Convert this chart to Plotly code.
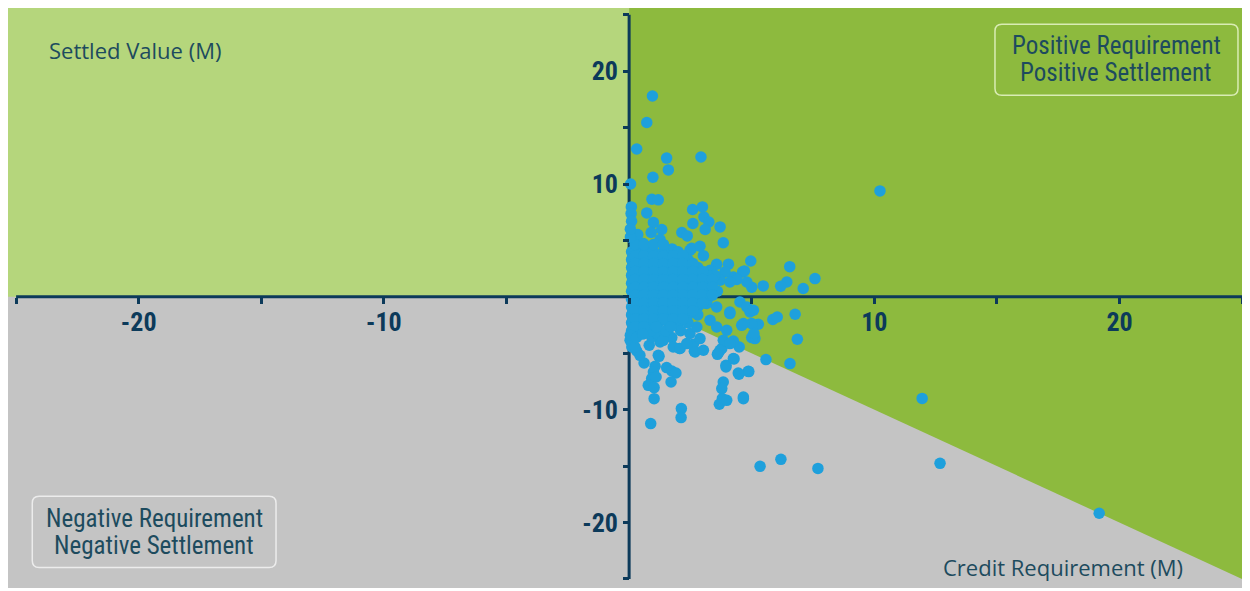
import plotly.graph_objects as go

# ---------------- data (millions) ----------------
# scattered points: credit requirement (x) vs settled value (y)
credit_requirement = [
    # upper scatter
    0.95, 0.72, 0.31, 1.53, 2.93, 1.60, 0.97, 0.06, 0.93, 1.19,
    0.09, 2.59, 2.99, 0.08, 0.72, 3.05, 0.10, 0.99, 3.25, 2.60,
    3.71, 1.33, 0.90, 2.15, 2.37, 3.10, 0.35, 1.26, 3.84, 1.75,
    2.55, 2.89, 0.58, 3.03, 3.57, 4.05, 4.96, 6.55, 4.63, 6.43,
    6.18, 5.47, 7.10, 5.00, 4.25, 10.23, 7.58, 4.70, 4.39, 3.91,
    3.71, 4.11, 4.80, 3.30, 3.50, 2.48,
    # lower right scatter
    6.77, 5.86, 6.04, 6.86, 6.56, 5.58, 4.93, 5.27, 5.00, 4.66,
    5.07, 5.13, 4.49, 4.86, 4.45, 4.66, 3.84, 3.78, 3.95, 4.25,
    3.64, 3.78, 4.11, 4.25, 5.00, 5.09, 3.16, 3.57, 4.11, 4.52,
    4.80, 5.07, 3.30, 3.57, 3.98, 4.59, 3.84, 4.11,
    # lower left scatter
    2.05, 2.66, 0.61, 1.22, 1.53, 1.74, 1.91, 1.06, 0.99, 0.92,
    1.10, 0.78, 1.02, 1.71, 1.02, 0.88, 2.13, 2.12, 3.71, 3.60,
    3.95, 4.28, 4.48, 4.88, 3.80, 3.68, 3.98, 4.66, 0.44, 0.11,
    0.31, 0.82, 1.26, 1.74, 2.62, 2.89, 0.31, 0.58, 0.92, 1.13,
    1.39, 1.80, 2.08, 2.35, 2.69, 3.03, 0.04, 0.24, 1.19, 2.48,
    2.76,
    # far outliers
    5.34, 6.19, 7.70, 11.95, 12.68, 19.17,
    # dense cluster near the origin
    0.10, 0.40, 0.70, 1.00, 1.40, 2.00,
    0.10, 0.40, 0.80, 1.20, 1.60, 2.00, 2.40,
    0.10, 0.40, 0.80, 1.20, 1.60, 2.00, 2.40, 2.80,
    0.10, 0.40, 0.80, 1.20, 1.60, 2.00, 2.40, 2.80, 3.20,
    0.10, 0.40, 0.80, 1.20, 1.60, 2.00, 2.40, 2.80, 3.20,
    0.10, 0.40, 0.80, 1.20, 1.60, 2.00, 2.40, 2.80, 3.20, 3.60,
    0.10, 0.40, 0.80, 1.20, 1.60, 2.00, 2.40, 2.80, 3.20,
    0.10, 0.40, 0.80, 1.20, 1.60, 2.00, 2.40, 2.80,
    0.10, 0.40, 0.80, 1.20, 1.60, 2.00, 2.40, 2.80,
    0.10, 0.40, 0.80, 1.20, 1.60, 2.00, 2.40,
    0.10, 0.50, 0.90, 1.50, 2.10,
    # dense cluster, in-between rows
    0.25, 0.60, 1.00, 1.40, 0.25, 0.60, 1.00, 1.40, 1.80, 2.20,
    0.25, 0.60, 1.00, 1.40, 1.80, 2.20, 2.60,
    0.25, 0.60, 1.00, 1.40, 1.80, 2.20, 2.60, 3.00,
    0.25, 0.60, 1.00, 1.40, 1.80, 2.20, 2.60, 3.00, 3.40,
    0.25, 0.60, 1.00, 1.40, 1.80, 2.20, 2.60, 3.00, 3.40,
    0.25, 0.60, 1.00, 1.40, 1.80, 2.20, 2.60, 3.00, 3.40,
    0.25, 0.60, 1.00, 1.40, 1.80, 2.20, 2.60, 3.00,
    0.25, 0.60, 1.00, 1.40, 1.80, 2.20, 2.60,
    0.25, 0.60, 1.00, 1.40, 1.80, 2.20,
    0.25, 0.60, 1.10, 1.70,
    0.05, 0.05, 0.05, 0.30, 0.55,
]
settled_value = [
    # upper scatter
    17.80, 15.45, 13.10, 12.30, 12.40, 11.25, 10.60, 10.00, 8.65, 8.60,
    7.97, 7.74, 7.97, 7.38, 7.44, 7.08, 6.70, 6.60, 6.64, 6.50,
    6.20, 5.97, 5.70, 5.70, 5.40, 5.97, 5.52, 5.08, 4.80, 4.25,
    4.30, 4.49, 4.73, 3.65, 2.89, 2.90, 3.18, 2.68, 2.21, 1.32,
    0.94, 0.97, 0.74, 0.85, 1.76, 9.39, 1.62, 2.30, 1.55, 2.21,
    1.47, 1.32, 1.32, 2.36, 1.92, 4.13,
    # lower right scatter
    -1.54, -2.01, -1.78, -3.76, -5.91, -5.56, -1.34, -2.43, -2.37, -2.37,
    -3.40, -3.70, -4.44, -6.60, -6.75, -8.87, -7.54, -8.13, -6.06, -5.47,
    -4.97, -4.58, -1.48, -3.91, -3.61, -3.25, -0.59, -0.90, -1.34, -0.45,
    -0.90, -1.19, -2.07, -2.67, -2.96, -2.52, -3.85, -4.14,
    # lower left scatter
    -4.58, -4.82, -5.86, -5.27, -6.27, -6.57, -6.75, -6.15, -6.66, -7.24,
    -7.10, -7.84, -8.04, -7.54, -9.02, -11.23, -9.90, -10.70, -4.73, -5.09,
    -6.21, -5.50, -6.86, -6.62, -9.02, -9.52, -9.17, -9.02, -5.18, -4.44,
    -4.80, -4.29, -4.00, -3.61, -4.20, -3.70, -2.67, -3.11, -3.56, -3.25,
    -3.85, -4.44, -4.58, -4.14, -4.88, -4.73, -3.85, -4.44, -5.18, -3.25,
    -2.67,
    # far outliers
    -15.02, -14.40, -15.20, -9.00, -14.75, -19.18,
    # dense cluster near the origin
    4.00, 4.00, 4.00, 4.00, 4.00, 4.00,
    3.30, 3.30, 3.30, 3.30, 3.30, 3.30, 3.30,
    2.60, 2.60, 2.60, 2.60, 2.60, 2.60, 2.60, 2.60,
    1.90, 1.90, 1.90, 1.90, 1.90, 1.90, 1.90, 1.90, 1.90,
    1.20, 1.20, 1.20, 1.20, 1.20, 1.20, 1.20, 1.20, 1.20,
    0.50, 0.50, 0.50, 0.50, 0.50, 0.50, 0.50, 0.50, 0.50, 0.50,
    -0.20, -0.20, -0.20, -0.20, -0.20, -0.20, -0.20, -0.20, -0.20,
    -0.90, -0.90, -0.90, -0.90, -0.90, -0.90, -0.90, -0.90,
    -1.60, -1.60, -1.60, -1.60, -1.60, -1.60, -1.60, -1.60,
    -2.30, -2.30, -2.30, -2.30, -2.30, -2.30, -2.30,
    -3.00, -3.00, -3.00, -3.00, -3.00,
    # dense cluster, in-between rows
    4.65, 4.65, 4.65, 4.65, 3.65, 3.65, 3.65, 3.65, 3.65, 3.65,
    2.95, 2.95, 2.95, 2.95, 2.95, 2.95, 2.95,
    2.25, 2.25, 2.25, 2.25, 2.25, 2.25, 2.25, 2.25,
    1.55, 1.55, 1.55, 1.55, 1.55, 1.55, 1.55, 1.55, 1.55,
    0.85, 0.85, 0.85, 0.85, 0.85, 0.85, 0.85, 0.85, 0.85,
    0.15, 0.15, 0.15, 0.15, 0.15, 0.15, 0.15, 0.15, 0.15,
    -0.55, -0.55, -0.55, -0.55, -0.55, -0.55, -0.55, -0.55,
    -1.25, -1.25, -1.25, -1.25, -1.25, -1.25, -1.25,
    -1.95, -1.95, -1.95, -1.95, -1.95, -1.95,
    -2.65, -2.65, -2.65, -2.65,
    5.30, 6.00, -3.40, -3.60, -3.30,
]

tick_values = [-25, -20, -15, -10, -5, 0, 5, 10, 15, 20, 25]
tick_labels = ["", "-20", "", "-10", "", "", "", "10", "", "20", ""]

x_title = "Credit Requirement (M)"
y_title = "Settled Value (M)"
top_right_label = ["Positive Requirement", "Positive Settlement"]
bottom_left_label = ["Negative Requirement", "Negative Settlement"]

# ---------------- styling ----------------
NAVY = "#0c3a5a"
TEXT = "#1d4b5e"
LIGHT_GREEN = "#b5d67c"
DARK_GREEN = "#8dba3e"
GREY = "#c4c4c4"
BLUE = "#1ea0dc"
X0, X1 = -25.33, 25.32
Y0, Y1 = -25.8, 25.6
NARROW = "Liberation Sans Narrow, Roboto Condensed, Arial Narrow, DejaVu Sans Condensed, sans-serif"
HUMAN = "Open Sans, Noto Sans, DejaVu Sans, sans-serif"

fig = go.Figure()
fig.add_trace(go.Scatter(
    x=credit_requirement, y=settled_value, mode="markers",
    marker=dict(size=11.5, color=BLUE, line=dict(width=0)),
    hoverinfo="x+y", showlegend=False,
))

shapes = [
    # upper-left light green quadrant
    dict(type="rect", xref="x", yref="y", x0=X0, x1=0, y0=0, y1=Y1,
         fillcolor=LIGHT_GREEN, line=dict(width=0), layer="below"),
    # dark green region: x > 0 and y > -x
    dict(type="path", xref="x", yref="y",
         path=f"M 0 0 L 0 {Y1} L {X1} {Y1} L {X1} {-X1} Z",
         fillcolor=DARK_GREEN, line=dict(width=0), layer="below"),
    # axes lines
    dict(type="line", xref="x", yref="y", x0=-25, x1=25, y0=0, y1=0,
         line=dict(color=NAVY, width=3), layer="below"),
    dict(type="line", xref="x", yref="y", x0=0, x1=0, y0=-25, y1=25,
         line=dict(color=NAVY, width=3), layer="below"),
]


def rounded_box(x0, x1, y0, y1, rx, ry):
    return (f"M {x0+rx} {y1} L {x1-rx} {y1} Q {x1} {y1} {x1} {y1-ry} "
            f"L {x1} {y0+ry} Q {x1} {y0} {x1-rx} {y0} L {x0+rx} {y0} "
            f"Q {x0} {y0} {x0} {y0+ry} L {x0} {y1-ry} Q {x0} {y1} {x0+rx} {y1} Z")


shapes.append(dict(type="path", xref="x", yref="y",
                   path=rounded_box(14.92, 24.83, 17.87, 24.17, 0.28, 0.6),
                   line=dict(color="#d9ecb4", width=1.5), layer="above"))
shapes.append(dict(type="path", xref="x", yref="y",
                   path=rounded_box(-24.34, -14.40, -23.98, -17.68, 0.28, 0.6),
                   line=dict(color="#ececec", width=1.5), layer="above"))

annotations = [
    dict(x=-23.74, y=21.85, xref="x", yref="y", text=y_title, showarrow=False,
         xanchor="left", yanchor="middle", font=dict(family=HUMAN, size=22, color=TEXT)),
    dict(x=22.67, y=-23.97, xref="x", yref="y", text=x_title, showarrow=False,
         xanchor="right", yanchor="middle", font=dict(family=HUMAN, size=22, color=TEXT)),
    dict(x=19.86, y=22.3, xref="x", yref="y", text=top_right_label[0], showarrow=False,
         xanchor="center", yanchor="middle", font=dict(family=NARROW, size=25, color=TEXT)),
    dict(x=19.86, y=19.9, xref="x", yref="y", text=top_right_label[1], showarrow=False,
         xanchor="center", yanchor="middle", font=dict(family=NARROW, size=25, color=TEXT)),
    dict(x=-19.36, y=-19.6, xref="x", yref="y", text=bottom_left_label[0], showarrow=False,
         xanchor="center", yanchor="middle", font=dict(family=NARROW, size=25, color=TEXT)),
    dict(x=-19.36, y=-22.0, xref="x", yref="y", text=bottom_left_label[1], showarrow=False,
         xanchor="center", yanchor="middle", font=dict(family=NARROW, size=25, color=TEXT)),
]

axis_common = dict(
    showgrid=False, zeroline=False, showline=False,
    tickmode="array", tickvals=tick_values, ticktext=tick_labels,
    ticks="outside", ticklen=6, tickwidth=3, tickcolor=NAVY,
    tickfont=dict(family=NARROW, size=26, color=NAVY, weight="bold"),
    anchor="free", fixedrange=True,
)

fig.update_layout(
    width=1242, height=580,
    margin=dict(l=0, r=0, t=0, b=0),
    paper_bgcolor="white", plot_bgcolor=GREY,
    xaxis=dict(range=[X0, X1], position=(0 - Y0) / (Y1 - Y0),
               ticklabelstandoff=-4, **axis_common),
    yaxis=dict(range=[Y0, Y1], position=(0 - X0) / (X1 - X0),
               ticklabelstandoff=0, **axis_common),
    shapes=shapes, annotations=annotations,
    showlegend=False,
)

fig.write_html("out.html")
